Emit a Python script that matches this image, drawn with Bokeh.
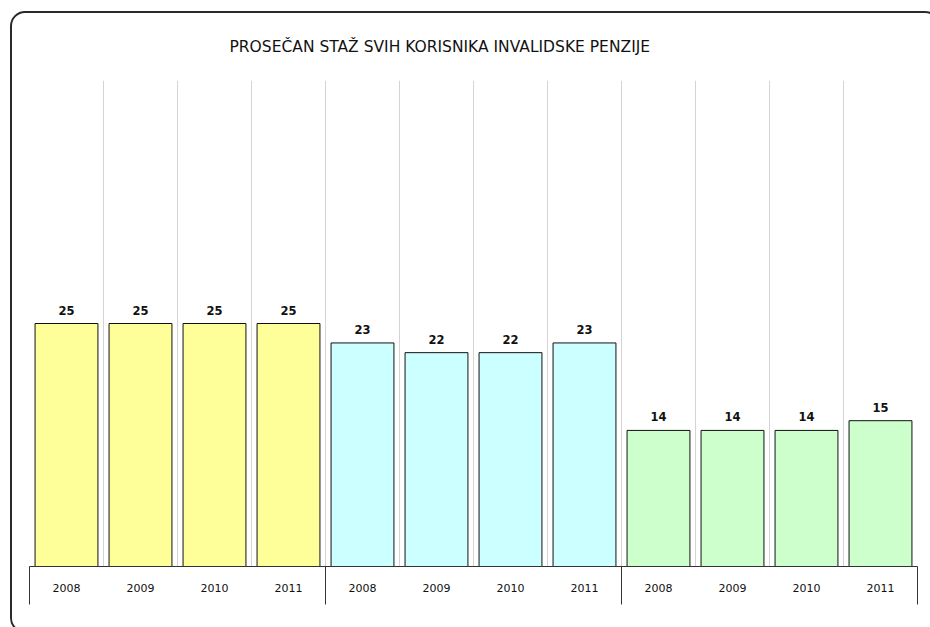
from bokeh.plotting import figure
from bokeh.models import ColumnDataSource, FixedTicker, LabelSet, InlineStyleSheet
from bokeh.core.properties import value
from bokeh.embed import file_html
from bokeh.resources import INLINE

title_text = "PROSEČAN STAŽ SVIH KORISNIKA INVALIDSKE PENZIJE"
years = ["2008", "2009", "2010", "2011", "2008", "2009", "2010", "2011",
         "2008", "2009", "2010", "2011"]
values = [25, 25, 25, 25, 23, 22, 22, 23, 14, 14, 14, 15]
group_colors = ["#FFFF99", "#CCFFFF", "#CCFFCC"]
group_size = 4

n = len(values)
xs = [i + 0.5 for i in range(n)]
colors = [group_colors[i // group_size] for i in range(n)]
labels = [str(v) for v in values]

src = ColumnDataSource(dict(x=xs, top=values, color=colors, label=labels))

p = figure(width=930, height=627, x_range=(0, n), y_range=(0, 50),
           output_backend="svg", toolbar_location=None,
           min_border_left=29, min_border_right=13, min_border_top=80,
           min_border_bottom=61)
p.outline_line_color = None
p.background_fill_color = "white"
p.border_fill_color = "white"

p.title.text = title_text
p.title.text_font = "DejaVu Sans"
p.title.text_font_size = "15.5px"
p.title.text_font_style = "normal"
p.title.text_color = "#111111"
p.title.align = "left"
p.title.offset = 200
p.title.standoff = 50

p.vbar(x="x", top="top", bottom=0, width=0.85, fill_color="color",
       line_color="#111111", line_width=1, source=src)

p.add_layout(LabelSet(x="x", y="top", text="label", source=src,
                      text_align="center", text_baseline="bottom", y_offset=9,
                      text_font=value("DejaVu Sans"), text_font_size=value("11.5px"),
                      text_font_style="bold", text_color="#111111"))

p.yaxis.visible = False
p.ygrid.visible = False
p.xgrid.ticker = FixedTicker(ticks=list(range(n + 1)))
p.xgrid.grid_line_color = "#D4D4D4"
p.xgrid.grid_line_width = 1

ax = p.xaxis[0]
ax.ticker = FixedTicker(ticks=xs, minor_ticks=list(range(0, n + 1, group_size)))
ax.major_label_overrides = {x: y for x, y in zip(xs, years)}
ax.major_tick_out = 0
ax.major_tick_in = 0
ax.minor_tick_out = 38
ax.minor_tick_in = 0
ax.minor_tick_line_color = "#333333"
ax.axis_line_color = "#333333"
ax.major_label_standoff = -21
ax.major_label_text_font = "DejaVu Sans"
ax.major_label_text_font_size = "11px"
ax.major_label_text_color = "#111111"

p.stylesheets = [InlineStyleSheet(css="""
:host { overflow: hidden; }
:host::after {
  content: "";
  position: absolute;
  left: 10px; top: 11px; width: 930px; height: 622px;
  border: 2px solid #2a2a2a;
  border-radius: 15px;
  pointer-events: none;
  box-sizing: border-box;
}
""")]

open("out.html", "w").write(file_html(p, INLINE))
